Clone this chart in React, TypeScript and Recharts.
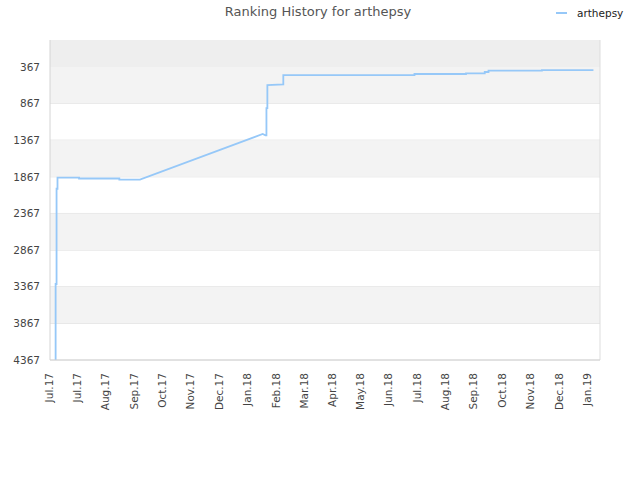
import { LineChart, Line, XAxis, YAxis, CartesianGrid, ReferenceArea, ReferenceLine } from "recharts"

// x values are days counted from the first axis tick
const days = [6, 6, 7, 7, 8, 8, 31, 31, 74, 74, 96, 227, 230, 231, 231, 232, 232, 249, 249, 389, 389, 444, 444, 464, 464, 468, 468, 525, 525, 580]
const ranks = [4367, 3330, 3330, 2030, 2030, 1878, 1878, 1890, 1890, 1905, 1905, 1283, 1300, 1300, 930, 930, 615, 607, 478, 478, 464, 464, 455, 455, 437, 437, 419, 419, 410, 410]

const tickDays = [0, 30, 60, 91, 121, 151, 181, 211, 242, 272, 302, 332, 362, 393, 423, 453, 483, 513, 544, 574]
const tickLabels = ["Jul.17", "Jul.17", "Aug.17", "Sep.17", "Oct.17", "Nov.17", "Dec.17", "Jan.18", "Feb.18", "Mar.18", "Apr.18", "May.18", "Jun.18", "Jul.18", "Aug.18", "Sep.18", "Oct.18", "Nov.18", "Dec.18", "Jan.19"]
const rankTicks = [367, 867, 1367, 1867, 2367, 2867, 3367, 3867, 4367]
const grayBands = [[367, 867], [1367, 1867], [2367, 2867], [3367, 3867]]

const data = days.map((d, i) => ({ day: d, rank: ranks[i] }))
const font = "'DejaVu Sans', sans-serif"

function MonthTick(props: any) {
    const { x, y, payload } = props
    const label = tickLabels[payload.index] ?? ""
    const tx = x + 3
    const ty = y + 11
    return (
        <text
            x={tx}
            y={ty}
            transform={`rotate(-90, ${tx}, ${ty})`}
            textAnchor="end"
            fontSize={10.5}
            fontFamily={font}
            fill="#444"
        >
            {label}
        </text>
    )
}

export default function App() {
    return (
        <div style={{ position: "absolute", left: 0, top: 0, width: 640, height: 480, background: "#fff" }}>
            <div style={{ position: "absolute", left: 0, width: 636, top: 4, textAlign: "center", fontFamily: font, fontSize: 13, color: "#555" }}>
                Ranking History for arthepsy
            </div>
            <div style={{ position: "absolute", left: 556, top: 7, display: "flex", alignItems: "center", fontFamily: font, fontSize: 10.5, color: "#222" }}>
                <span style={{ display: "inline-block", width: 11, height: 2, background: "#96c8f8", marginRight: 10 }} />
                arthepsy
            </div>
            <LineChart width={640} height={480} data={data} margin={{ top: 40, right: 40, bottom: 0, left: 0 }}>
                <ReferenceArea y1={0} y2={367} fill="#eeeeee" fillOpacity={1} stroke="none" ifOverflow="visible" />
                {grayBands.map(([a, b]) => (
                    <ReferenceArea key={a} y1={a} y2={b} fill="#f3f3f3" fillOpacity={1} stroke="none" />
                ))}
                <CartesianGrid vertical={false} stroke="#e0e0e0" horizontalValues={rankTicks} />
                <ReferenceLine x={587} stroke="#dddddd" />
                <XAxis
                    type="number"
                    dataKey="day"
                    domain={[0, 587]}
                    ticks={tickDays}
                    interval={0}
                    height={120}
                    tickLine={false}
                    tickSize={0}
                    stroke="#d4d4d4"
                    tick={<MonthTick />}
                    allowDataOverflow
                />
                <YAxis
                    type="number"
                    dataKey="rank"
                    reversed
                    domain={[0, 4367]}
                    ticks={rankTicks}
                    interval={0}
                    width={50}
                    tickLine={false}
                    tickSize={0}
                    tickMargin={10}
                    stroke="#d4d4d4"
                    tick={{ fill: "#444", fontSize: 10.5, fontFamily: font }}
                    allowDataOverflow
                />
                <Line
                    type="linear"
                    dataKey="rank"
                    stroke="#96c8f8"
                    strokeWidth={1.8}
                    dot={false}
                    isAnimationActive={false}
                />
            </LineChart>
        </div>
    )
}
